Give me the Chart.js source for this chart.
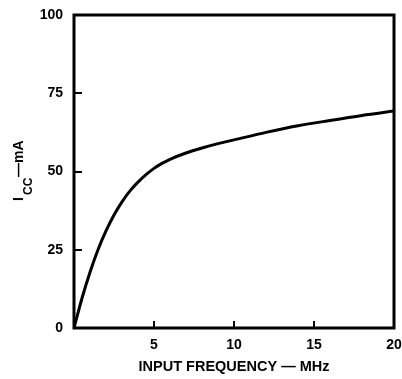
<!DOCTYPE html>
<html>
<head>
<meta charset="utf-8">
<script src="https://cdn.jsdelivr.net/npm/chart.js@4"></script>
<style>
  html, body { margin: 0; padding: 0; background: #fff; }
  #wrap { width: 402px; height: 379px; }
</style>
</head>
<body>
<div id="wrap"><canvas id="iccChart" width="402" height="379"></canvas></div>
<script>
// Supply current vs input frequency
const freqMHz = [0, 0.5, 1, 1.5, 2, 2.5, 3, 3.5, 4, 4.5, 5, 5.5, 6, 7, 8, 9, 10, 12, 14, 16, 18, 20];
const iccMa   = [0, 9.5, 17.8, 25, 31, 36.1, 40.3, 43.8, 46.6, 49, 51, 52.6, 53.9, 55.9, 57.5, 58.9, 60.1, 62.5, 64.6, 66.3, 67.9, 69.3];
const xTicks = [5, 10, 15, 20];
const yTicks = [0, 25, 50, 75, 100];

Chart.defaults.font.family = '"Liberation Sans", Arial, sans-serif';
Chart.defaults.color = '#000';

// frame round the plot + the rotated I_CC label with its subscript
const framePlugin = {
    id: 'frame',
    afterDatasetsDraw(chart) {
        const { ctx, chartArea: a } = chart;
        ctx.save();
        ctx.strokeStyle = '#000';
        ctx.lineWidth = 3;
        ctx.strokeRect(a.left, a.top, a.right - a.left, a.bottom - a.top);
        ctx.restore();
    },
    afterDraw(chart) {
        const ctx = chart.ctx;
        ctx.save();
        ctx.translate(23, 201);
        ctx.rotate(-Math.PI / 2);
        ctx.fillStyle = '#000';
        ctx.textBaseline = 'alphabetic';
        ctx.textAlign = 'left';
        ctx.font = 'bold 14px "Liberation Sans", Arial, sans-serif';
        ctx.fillText('I', 0, 0);
        ctx.font = 'bold 12px "Liberation Sans", Arial, sans-serif';
        ctx.fillText('CC', 6, 9);
        ctx.font = 'bold 14px "Liberation Sans", Arial, sans-serif';
        ctx.fillText('\u2014mA', 24, 0);
        ctx.restore();
    }
};

const pts = freqMHz.map((f, i) => ({ x: f, y: iccMa[i] }));

new Chart(document.getElementById('iccChart'), {
    type: 'line',
    data: {
        datasets: [{
            data: pts,
            borderColor: '#000',
            borderWidth: 3,
            pointRadius: 0,
            fill: false,
            cubicInterpolationMode: 'monotone'
        }]
    },
    options: {
        responsive: false,
        animation: false,
        devicePixelRatio: 1,
        layout: { padding: { top: 15, right: 8, left: 0, bottom: 0 } },
        plugins: { legend: { display: false }, tooltip: { enabled: false } },
        scales: {
            x: {
                type: 'linear',
                min: 0,
                max: 20,
                afterFit: s => { s.height = 51; s.paddingLeft = 0; s.paddingRight = 0; },
                afterBuildTicks: s => { s.ticks = [0].concat(xTicks).map(v => ({ value: v })); },
                border: { display: false },
                grid: { drawOnChartArea: false, drawTicks: true, tickLength: -7, color: '#000', lineWidth: 2 },
                ticks: {
                    padding: 16,
                    font: { size: 14, weight: 'bold' },
                    callback: v => (v === 0 ? '' : String(v))
                },
                title: {
                    display: true,
                    text: 'INPUT FREQUENCY \u2014 MHz',
                    font: { size: 14.5, weight: 'bold' },
                    padding: { top: 0, bottom: 3 }
                }
            },
            y: {
                min: 0,
                max: 100,
                afterFit: s => { s.width = 74; s.paddingTop = 0; s.paddingBottom = 0; },
                afterBuildTicks: s => { s.ticks = yTicks.map(v => ({ value: v })); },
                border: { display: false },
                grid: { drawOnChartArea: false, drawTicks: true, tickLength: -8, color: '#000', lineWidth: 2 },
                ticks: {
                    padding: 19,
                    font: { size: 14, weight: 'bold' }
                }
            }
        }
    },
    plugins: [framePlugin]
});
</script>
</body>
</html>
